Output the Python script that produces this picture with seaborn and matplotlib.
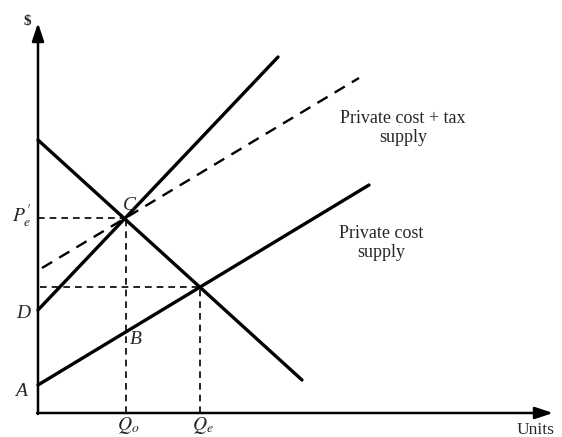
import numpy as np
import pandas as pd
import matplotlib
matplotlib.use("Agg")
import matplotlib.pyplot as plt
import seaborn as sns

# curve end points (units, $)
demand_x = [0, 264]
demand_y = [273, 33]
social_x = [0, 240]          # private cost + external cost (steep)
social_y = [103, 356]
tax_x = [4, 321]             # private cost + tax supply (dashed)
tax_y = [145, 335]
private_x = [0, 331]         # private cost supply
private_y = [28, 228]

q_o, p_o = 88, 195           # point C
q_e, p_e = 162, 126          # market equilibrium
b_y = 81                     # point B on private supply

sns.set_theme(style="white")
plt.rcParams['font.family'] = ['Liberation Serif', 'DejaVu Serif']

fig = plt.figure(figsize=(5.62, 4.37), dpi=100)
ax = fig.add_axes([0, 0, 1, 1])
ax.set_xlim(-38, 524)
ax.set_ylim(-24, 413)
ax.axis("off")

# axes with arrows
ax.annotate("", xy=(0, 390), xytext=(0, -1),
            arrowprops=dict(arrowstyle="-|>,head_length=0.9,head_width=0.3",
                            color="black", lw=1.8, shrinkA=0, shrinkB=0))
ax.annotate("", xy=(515, 0), xytext=(-1, 0),
            arrowprops=dict(arrowstyle="-|>,head_length=0.9,head_width=0.3",
                            color="black", lw=1.8, shrinkA=0, shrinkB=0))

# curves
sns.lineplot(x=demand_x, y=demand_y, color="black", lw=2.4, ax=ax, sort=False)
sns.lineplot(x=social_x, y=social_y, color="black", lw=2.4, ax=ax, sort=False)
sns.lineplot(x=private_x, y=private_y, color="black", lw=2.4, ax=ax, sort=False)
sns.lineplot(x=tax_x, y=tax_y, color="black", lw=1.7, ax=ax, sort=False,
             linestyle=(0, (5, 3.5)))

# guide lines
guide = dict(color="black", lw=1.2, linestyle=(0, (4, 3)))
ax.plot([0, q_o], [p_o, p_o], **guide)
ax.plot([q_o, q_o], [0, p_o], **guide)
ax.plot([2, q_e], [p_e, p_e], **guide)
ax.plot([q_e, q_e], [0, p_e], **guide)

# labels
it = dict(fontsize=14, style="italic", ha="center", va="center")
ax.text(-11, 392, "$", fontsize=11, fontweight="bold", ha="center", va="center")
ax.text(-16, 197, "$P_e'$", fontsize=14, ha="center", va="center",
        math_fontfamily="stix")
ax.text(-15, 100, "D", **it)
ax.text(-17, 21, "A", **it)
ax.text(91, 208, "C", **it)
ax.text(98, 74, "B", **it)
ax.text(q_o + 2, -13, "$Q_o$", fontsize=14, ha="center", va="center",
        math_fontfamily="stix")
ax.text(q_e + 3, -13, "$Q_e$", fontsize=14, ha="center", va="center",
        math_fontfamily="stix")
ax.text(498, -17, "Units", fontsize=12.5, ha="center", va="center")
ax.text(365, 285, "Private cost + tax\nsupply", fontsize=13, ha="center",
        va="center", linespacing=1.1)
ax.text(343, 170, "Private cost\nsupply", fontsize=13, ha="center",
        va="center", linespacing=1.1)

fig.savefig("out.png", dpi=100)
